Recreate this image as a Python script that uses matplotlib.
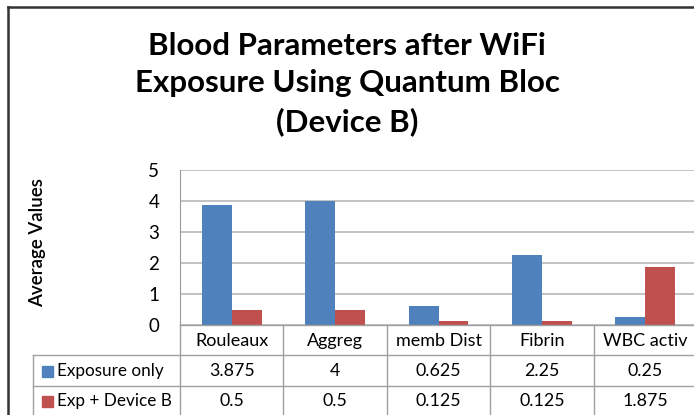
import numpy as np
import matplotlib.pyplot as plt
import matplotlib.transforms as mtransforms
from matplotlib.lines import Line2D
from matplotlib.patches import Rectangle

plt.rcParams['font.family'] = ['Lato', 'DejaVu Sans']

# data
categories = ['Rouleaux', 'Aggreg', 'memb Dist', 'Fibrin', 'WBC activ']
series_names = ['Exposure only', 'Exp + Device B']
exposure_only = [3.875, 4, 0.625, 2.25, 0.25]
exp_device_b = [0.5, 0.5, 0.125, 0.125, 1.875]
colors = ['#4F81BD', '#C0504D']

W, H = 694, 415
fig = plt.figure(figsize=(W / 100, H / 100), dpi=100)


def fx(px):
    return px / W


def fy(py):
    return 1 - py / H


# outer frame (left and top edges only, the rest is cropped)
fig.add_artist(Line2D([fx(8), fx(8)], [fy(7), 0], color='#333333', lw=1.8))
fig.add_artist(Line2D([fx(8), 1], [fy(7), fy(7)], color='#333333', lw=1.8))

# title
fig.text(fx(347), fy(84), 'Blood Parameters after WiFi\nExposure Using Quantum Bloc\n(Device B)',
         ha='center', va='center', fontsize=22.5, fontweight='bold', linespacing=1.42)

ax = fig.add_axes([fx(180), fy(325), (697 - 180) / W, (325 - 170) / H])
x = np.arange(len(categories))
w = 0.29
ax.bar(x - w / 2, exposure_only, w, color=colors[0], zorder=3)
ax.bar(x + w / 2, exp_device_b, w, color=colors[1], zorder=3)
ax.set_xlim(-0.5, len(categories) - 0.5)
ax.set_ylim(0, 5)
ax.set_yticks(range(6))
ax.yaxis.grid(True, color='#b8b8b8', lw=1.2, zorder=0)
ax.set_xticks([])
ax.tick_params(axis='y', length=0, pad=15, labelsize=13.5)
for s in ['top', 'right', 'bottom']:
    ax.spines[s].set_visible(False)
ax.spines['left'].set_color('#9a9a9a')

fig.text(fx(38), fy(243), 'Average Values', rotation=90, ha='center', va='center',
         fontsize=13.5, fontweight='semibold')

# data table under the chart
tr = mtransforms.blended_transform_factory(ax.transData, fig.transFigure)
line_col = '#a0a0a0'
for b in np.arange(len(categories) + 1) - 0.5:
    fig.add_artist(Line2D([b, b], [fy(325), 0], transform=tr, color=line_col, lw=1, clip_on=False))
for yy in [355, 386]:
    fig.add_artist(Line2D([fx(33), 1], [fy(yy), fy(yy)], color=line_col, lw=1))
fig.add_artist(Line2D([fx(33), fx(33)], [fy(355), 0], color=line_col, lw=1))
fig.add_artist(Line2D([fx(180), 1], [fy(325), fy(325)], color=line_col, lw=1))

for i, c in enumerate(categories):
    fig.text(i, fy(341), c, transform=tr, ha='center', va='center', fontsize=13)

rows = [exposure_only, exp_device_b]
row_y = [371, 401]
for r, (name, vals) in enumerate(zip(series_names, rows)):
    fig.add_artist(Rectangle((fx(42), fy(row_y[r] + 5.5)), 11 / W, 11 / H, color=colors[r]))
    fig.text(fx(57), fy(row_y[r]), name, ha='left', va='center', fontsize=12.3)
    for i, v in enumerate(vals):
        fig.text(i, fy(row_y[r]), '{:g}'.format(v), transform=tr, ha='center', va='center', fontsize=12.8)

fig.savefig('out.png', dpi=100, facecolor='white')
